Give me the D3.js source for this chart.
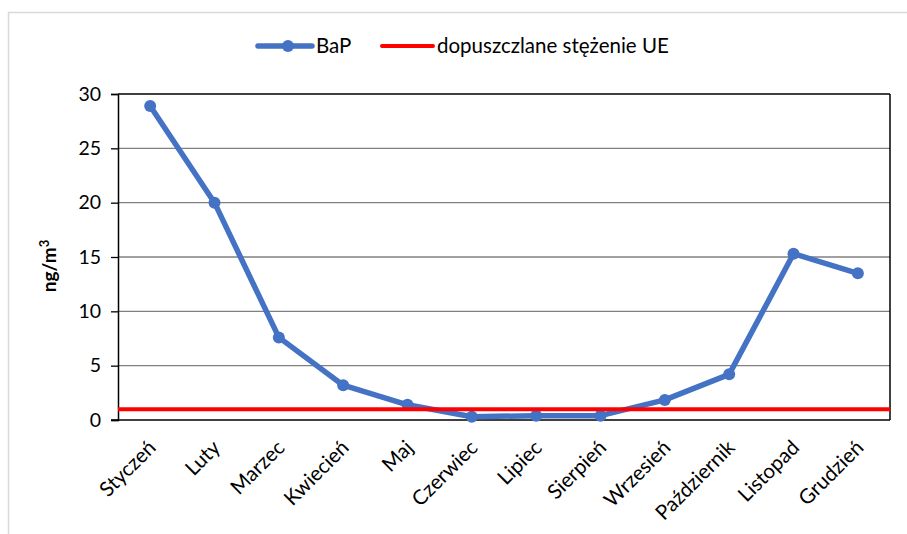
<!DOCTYPE html>
<html><head><meta charset="utf-8">
<script src="https://cdn.jsdelivr.net/npm/d3@7/dist/d3.min.js"></script>
<style>body{margin:0;background:#fff}svg{display:block}text{font-family:Lato,"Liberation Sans",sans-serif;fill:#000}</style>
</head><body><svg id="c" width="907" height="534"></svg>
<script>
const months = ["Styczeń","Luty","Marzec","Kwiecień","Maj","Czerwiec","Lipiec","Sierpień","Wrzesień","Październik","Listopad","Grudzień"];
const bap = [28.9, 20.0, 7.6, 3.2, 1.4, 0.3, 0.4, 0.4, 1.85, 4.2, 15.3, 13.5];
const limit = [1,1,1,1,1,1,1,1,1,1,1,1];
const yTicks = [0,5,10,15,20,25,30];
const seriesNames = ["BaP","dopuszczlane stężenie UE"];

const svg = d3.select("#c");
const W=907,H=534;
svg.append("rect").attr("x",8.5).attr("y",12.5).attr("width",W).attr("height",H).attr("fill","#fff").attr("stroke","#d9d9d9").attr("stroke-width",1.5);

const L=118,R=890,T=94,B=420;
const x = d3.scaleBand().domain(months).range([L,R]);
const y = d3.scaleLinear().domain([0,30]).range([B,T]);
const g = svg.append("g");

// gridlines
g.selectAll(".grid").data(yTicks.filter(d=>d>0&&d<30)).join("line")
 .attr("x1",L).attr("x2",R).attr("y1",d=>y(d)).attr("y2",d=>y(d))
 .attr("stroke","#808080").attr("stroke-width",1.3);
// border top/right
g.append("line").attr("x1",L).attr("x2",R).attr("y1",T).attr("y2",T).attr("stroke","#000").attr("stroke-width",1.5);
g.append("line").attr("x1",R).attr("x2",R).attr("y1",T).attr("y2",B).attr("stroke","#000").attr("stroke-width",1.5);

// y axis
const yAxis = d3.axisLeft(y).tickValues(yTicks).tickSize(7).tickPadding(10);
const ya = svg.append("g").attr("transform",`translate(${L},0)`).call(yAxis);
ya.select(".domain").attr("stroke","#000").attr("stroke-width",1.5);
ya.selectAll(".tick line").attr("stroke","#000").attr("stroke-width",1.3);
ya.selectAll("text").style("font-size","19.5px").style("font-family","Lato, sans-serif");

// x axis
const xAxis = d3.axisBottom(x).tickSize(0).tickSizeOuter(0).tickPadding(0);
const xa = svg.append("g").attr("transform",`translate(0,${B})`).call(xAxis);
xa.select(".domain").attr("d",`M${L-7},0H${R}`).attr("stroke","#000").attr("stroke-width",1.5);
xa.selectAll("text").style("font-size","20.5px").style("font-family","Lato, sans-serif")
 .attr("text-anchor","end").attr("dy",null).attr("y",null)
 .attr("transform","translate(7,29) rotate(-45)");

// BaP line
const line = d3.line().x((d,i)=>x(months[i])+x.bandwidth()/2).y(d=>y(d));
svg.append("path").datum(bap).attr("d",line).attr("fill","none").attr("stroke","#4472c4").attr("stroke-width",5.5).attr("stroke-linejoin","round");
svg.selectAll(".pt").data(bap).join("circle").attr("cx",(d,i)=>x(months[i])+x.bandwidth()/2).attr("cy",d=>y(d)).attr("r",6).attr("fill","#4472c4");

// limit line (spans plot width)
const lx = d3.scaleLinear().domain([0,limit.length-1]).range([L,R]);
svg.append("path").datum(limit).attr("d",d3.line().x((d,i)=>lx(i)).y(d=>y(d))).attr("fill","none").attr("stroke","#ff0000").attr("stroke-width",4);

// y label
svg.append("text").attr("transform","translate(56,266) rotate(-90)").attr("text-anchor","middle")
 .style("font-size","19px").style("font-weight","bold").html('ng/m<tspan dy="-7" font-size="13px">3</tspan>');

// legend
const lg = svg.append("g");
lg.append("line").attr("x1",258).attr("x2",312).attr("y1",46).attr("y2",46).attr("stroke","#4472c4").attr("stroke-width",5.5).attr("stroke-linecap","round");
lg.append("circle").attr("cx",288).attr("cy",46).attr("r",6).attr("fill","#4472c4");
lg.append("text").attr("x",316).attr("y",53).style("font-size","20.5px").text(seriesNames[0]);
lg.append("line").attr("x1",382).attr("x2",433).attr("y1",46).attr("y2",46).attr("stroke","#ff0000").attr("stroke-width",4).attr("stroke-linecap","round");
lg.append("text").attr("x",437).attr("y",53).style("font-size","20.5px").text(seriesNames[1]);
</script></body></html>
